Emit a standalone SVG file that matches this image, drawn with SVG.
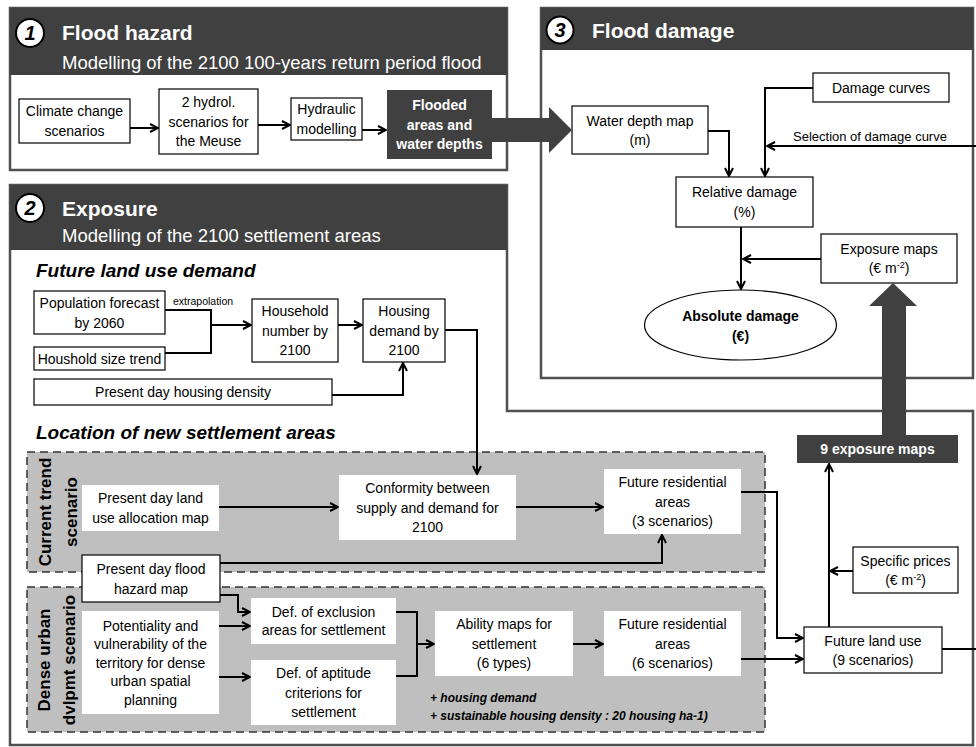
<svg xmlns="http://www.w3.org/2000/svg" width="976" height="747" viewBox="0 0 976 747">
<defs>
<marker id="arr" viewBox="0 0 10 10" refX="9" refY="5" markerWidth="10" markerHeight="10" markerUnits="userSpaceOnUse" orient="auto">
<path d="M1,1 L9,5 L1,9" fill="none" stroke="#000" stroke-width="2"/>
</marker>
<style>
text{font-family:"Liberation Sans",Arial,sans-serif;fill:#000}
.t{font-size:14px;text-anchor:middle}
.tw{font-size:14px;text-anchor:middle;font-weight:bold;fill:#fff}
.tb{font-size:14px;text-anchor:middle;font-weight:bold}
.h1{font-size:21px;font-weight:bold;fill:#fff}
.h2{font-size:18.5px;fill:#fff}
.sec{font-size:19px;font-weight:bold;font-style:italic}
.rot{font-size:17px;font-weight:bold;text-anchor:middle}
.num{font-size:20px;font-weight:bold;font-style:italic;text-anchor:middle}
.box{fill:#fff;stroke:#000;stroke-width:1.2}
.wbox{fill:#fff}
.dark{fill:#404040}
.panel{fill:#fff;stroke:#505050;stroke-width:2.5}
.scen{fill:#bfbfbf;stroke:#333;stroke-width:1.5;stroke-dasharray:8,5}
.c{fill:none;stroke:#000;stroke-width:2}
.ca{fill:none;stroke:#000;stroke-width:2;marker-end:url(#arr)}
.big{fill:#404040}
</style>
</defs>

<!-- Panel 1 -->
<g id="panel1">
<rect class="panel" x="10" y="8" width="497" height="162"/>
<rect class="dark" x="10" y="8" width="497" height="67"/>
<circle cx="30" cy="33" r="14" fill="#fff" stroke="#000" stroke-width="2"/>
<text class="num" x="30" y="40">1</text>
<text class="h1" x="62" y="40">Flood hazard</text>
<text class="h2" x="62" y="69">Modelling of the 2100 100-years return period flood</text>
</g>

<!-- Panel 3 -->
<g id="panel3">
<rect class="panel" x="541" y="8" width="432" height="370"/>
<rect class="dark" x="541" y="8" width="432" height="42"/>
<circle cx="560" cy="30" r="13.5" fill="#fff" stroke="#000" stroke-width="2"/>
<text class="num" x="560" y="37">3</text>
<text class="h1" x="592" y="38">Flood damage</text>
</g>

<!-- Panel 2 -->
<g id="panel2">
<path class="panel" d="M10,185 H507 V411 H973 V745 H10 Z"/>
<rect class="dark" x="10" y="185" width="497" height="65"/>
<circle cx="30" cy="208" r="14" fill="#fff" stroke="#000" stroke-width="2"/>
<text class="num" x="30" y="215">2</text>
<text class="h1" x="62" y="216">Exposure</text>
<text class="h2" x="62" y="242">Modelling of the 2100 settlement areas</text>
<text class="sec" x="36" y="277">Future land use demand</text>
<text class="sec" x="36" y="439">Location of new settlement areas</text>
</g>

<g id="scenario-current">
<rect class="scen" x="27" y="452" width="738" height="120"/>
<text class="rot" transform="translate(51,512) rotate(-90)">Current trend</text>
<text class="rot" transform="translate(77,512) rotate(-90)">scenario</text>
</g>
<g id="scenario-dense">
<rect class="scen" x="27" y="587" width="738" height="145"/>
<text class="rot" transform="translate(50,660) rotate(-90)">Dense urban</text>
<text class="rot" transform="translate(75,660) rotate(-90)">dvlpmt scenario</text>
</g>

<!-- Panel 1 nodes -->
<g id="climate"><rect class="box" x="19" y="99" width="111" height="44"/>
<text class="t" x="74.5" y="116">Climate change</text><text class="t" x="74.5" y="136">scenarios</text></g>
<g id="hydrol"><rect class="box" x="159" y="89" width="99" height="65"/>
<text class="t" x="208.5" y="107">2 hydrol.</text><text class="t" x="208.5" y="126.5">scenarios for</text><text class="t" x="208.5" y="146">the Meuse</text></g>
<g id="hydraulic"><rect class="box" x="291" y="98" width="71" height="42"/>
<text class="t" x="326.5" y="114">Hydraulic</text><text class="t" x="326.5" y="134">modelling</text></g>
<g id="flooded"><rect class="dark" x="387" y="90" width="105" height="69"/>
<text class="tw" x="439.5" y="110">Flooded</text><text class="tw" x="439.5" y="129.5">areas and</text><text class="tw" x="439.5" y="149">water depths</text></g>

<!-- Panel 3 nodes -->
<g id="damage-curves"><rect class="box" x="813" y="73" width="136" height="29"/>
<text class="t" x="881" y="92.5">Damage curves</text></g>
<g id="water-depth"><rect class="box" x="572" y="106" width="136" height="48"/>
<text class="t" x="640" y="125.5">Water depth map</text><text class="t" x="640" y="145">(m)</text></g>
<g id="relative-damage"><rect class="box" x="676" y="177" width="137" height="50"/>
<text class="t" x="744.5" y="197">Relative damage</text><text class="t" x="744.5" y="216.5">(%)</text></g>
<g id="exposure-maps"><rect class="box" x="821" y="234" width="136" height="49"/>
<text class="t" x="889" y="253.5">Exposure maps</text><text class="t" x="889" y="273">(€ m<tspan font-size="9" dy="-5">-2</tspan><tspan dy="5">)</tspan></text></g>
<g id="absolute-damage"><ellipse cx="740.5" cy="325" rx="96" ry="35" fill="#fff" stroke="#000" stroke-width="1.2"/>
<text class="tb" x="740.5" y="321">Absolute damage</text><text class="tb" x="740.5" y="341">(€)</text></g>
<text id="selection-label" x="793" y="141" font-size="13">Selection of damage curve</text>

<!-- Panel 2 nodes -->
<g id="population"><rect class="box" x="34" y="291" width="131" height="43"/>
<text class="t" x="99.5" y="308">Population forecast</text><text class="t" x="99.5" y="327.5">by 2060</text></g>
<g id="household-size"><rect class="box" x="34" y="347" width="131" height="23"/>
<text class="t" x="99.5" y="363.5">Houshold size trend</text></g>
<text id="extrapolation" x="173" y="305" font-size="10.5">extrapolation</text>
<g id="household-number"><rect class="box" x="252" y="299" width="86" height="63"/>
<text class="t" x="295" y="316">Household</text><text class="t" x="295" y="335.5">number by</text><text class="t" x="295" y="355">2100</text></g>
<g id="housing-demand"><rect class="box" x="363" y="299" width="82" height="63"/>
<text class="t" x="404" y="316">Housing</text><text class="t" x="404" y="335.5" font-size="13.5">demand by</text><text class="t" x="404" y="355">2100</text></g>
<g id="housing-density"><rect class="box" x="34" y="379" width="298" height="26"/>
<text class="t" x="183" y="397">Present day housing density</text></g>

<g id="land-allocation"><rect class="wbox" x="82" y="485" width="137" height="46"/>
<text class="t" x="150.5" y="503">Present day land</text><text class="t" x="150.5" y="522.5">use allocation map</text></g>
<g id="conformity"><rect class="wbox" x="339" y="475" width="177" height="65"/>
<text class="t" x="427.5" y="493">Conformity between</text><text class="t" x="427.5" y="512.5">supply and demand for</text><text class="t" x="427.5" y="532">2100</text></g>
<g id="future-res-3"><rect class="wbox" x="604" y="469" width="137" height="65"/>
<text class="t" x="672.5" y="487">Future residential</text><text class="t" x="672.5" y="506.5">areas</text><text class="t" x="672.5" y="526">(3 scenarios)</text></g>
<g id="flood-hazard-map"><rect class="box" x="82" y="555" width="138" height="47"/>
<text class="t" x="151" y="574">Present day flood</text><text class="t" x="151" y="593.5">hazard map</text></g>

<g id="potentiality"><rect class="wbox" x="82" y="611" width="137" height="103"/>
<text class="t" x="150.5" y="630.5">Potentiality and</text><text class="t" x="150.5" y="649">vulnerability of the</text><text class="t" x="150.5" y="667.5">territory for dense</text><text class="t" x="150.5" y="686">urban spatial</text><text class="t" x="150.5" y="704.5">planning</text></g>
<g id="exclusion"><rect class="wbox" x="251" y="598" width="145" height="46"/>
<text class="t" x="323.5" y="616.5">Def. of exclusion</text><text class="t" x="323.5" y="635">areas for settlement</text></g>
<g id="aptitude"><rect class="wbox" x="251" y="660" width="145" height="65"/>
<text class="t" x="323.5" y="678">Def. of aptitude</text><text class="t" x="323.5" y="697.5">criterions for</text><text class="t" x="323.5" y="717">settlement</text></g>
<g id="ability"><rect class="wbox" x="435" y="611" width="138" height="65"/>
<text class="t" x="504" y="629">Ability maps for</text><text class="t" x="504" y="648.5">settlement</text><text class="t" x="504" y="668">(6 types)</text></g>
<g id="future-res-6"><rect class="wbox" x="604" y="611" width="137" height="65"/>
<text class="t" x="672.5" y="629">Future residential</text><text class="t" x="672.5" y="648.5">areas</text><text class="t" x="672.5" y="668">(6 scenarios)</text></g>
<g id="notes">
<text x="430" y="702" font-size="12" font-weight="bold" font-style="italic">+ housing demand</text>
<text x="430" y="720" font-size="12" font-weight="bold" font-style="italic">+ sustainable housing density : 20 housing ha-1)</text>
</g>

<g id="future-land-use"><rect class="box" x="804" y="627" width="138" height="46"/>
<text class="t" x="873" y="645.5">Future land use</text><text class="t" x="873" y="665">(9 scenarios)</text></g>
<g id="specific-prices"><rect class="box" x="853" y="547" width="105" height="46"/>
<text class="t" x="905.5" y="565.5">Specific prices</text><text class="t" x="905.5" y="585">(€ m<tspan font-size="9" dy="-5">-2</tspan><tspan dy="5">)</tspan></text></g>
<g id="nine-exposure"><rect class="dark" x="797" y="435" width="161" height="28"/>
<text class="tw" x="877.5" y="454">9 exposure maps</text></g>

<!-- Connectors -->
<g id="connectors">
<path class="ca" d="M130,128 H158"/>
<path class="ca" d="M258,125 H290"/>
<path class="ca" d="M362,130 H386"/>
<path class="ca" d="M708,131 H729 V176"/>
<path class="ca" d="M813,88 H765 V176"/>
<path class="ca" d="M976,146 H767"/>
<path class="ca" d="M741,227 V289"/>
<path class="ca" d="M821,259 H743"/>
<path class="c" d="M165,310 H211 V353 H165"/>
<path class="ca" d="M211,325 H251"/>
<path class="ca" d="M338,325 H362"/>
<path class="ca" d="M332,395 H403 V363"/>
<path class="ca" d="M445,330 H477 V474"/>
<path class="ca" d="M219,507 H338"/>
<path class="ca" d="M516,507 H603"/>
<path class="ca" d="M220,563 H662 V535"/>
<path class="ca" d="M741,492 H777 V638 H803"/>
<path class="ca" d="M220,595 H238 V612 H250"/>
<path class="ca" d="M219,626 H250"/>
<path class="ca" d="M219,677 H250"/>
<path class="c" d="M396,612 H417 V676 H396"/>
<path class="ca" d="M417,644 H434"/>
<path class="ca" d="M573,644 H603"/>
<path class="ca" d="M741,659 H803"/>
<path class="c" d="M942,649 H976"/>
<path class="ca" d="M829,627 V464"/>
<path class="ca" d="M853,571 H830"/>
<polygon class="big" points="492,118 549,118 549,107 572,130 549,153 549,142 492,142"/>
<polygon class="big" points="882,435 882,306 869,306 893,283 917,306 906,306 906,435"/>
</g>
</svg>
